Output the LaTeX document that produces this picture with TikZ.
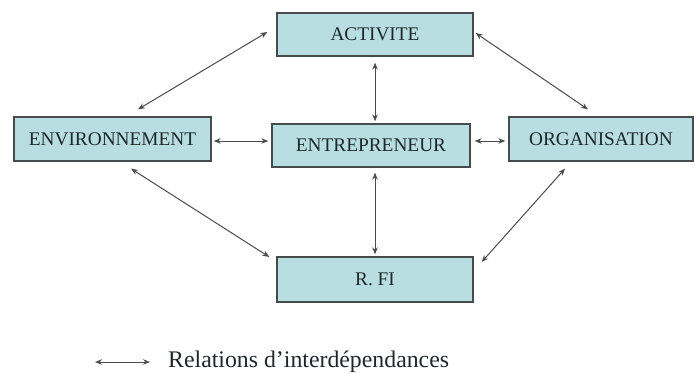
\documentclass[tikz,border=0pt]{standalone}
\usepackage{fontspec}
\setmainfont{Liberation Serif}
\usetikzlibrary{arrows.meta,calc}
\definecolor{boxfill}{RGB}{184,222,226}
\definecolor{boxline}{RGB}{70,75,75}
\definecolor{linkgray}{RGB}{75,75,75}
\definecolor{textdark}{RGB}{30,40,42}
\begin{document}
\begin{tikzpicture}[x=1pt,y=-1pt,
  entity/.style={draw=boxline,line width=1.3pt,fill=boxfill,inner sep=0pt,
    text=textdark,font=\fontsize{19.3}{19.3}\selectfont},
  link/.style={draw=linkgray,line width=1pt,
    {Stealth[length=7pt,width=5.5pt]}-{Stealth[length=7pt,width=5.5pt]}}]
\useasboundingbox (0,0) rectangle (695,372);

% the five boxes
\node[entity,minimum width=196pt,minimum height=43pt] (act) at (375,34.5) {ACTIVITE};
\node[entity,minimum width=197pt,minimum height=44pt] (env) at (112.5,139) {ENVIRONNEMENT};
\node[entity,minimum width=198pt,minimum height=43pt] (entre) at (371,145.5) {ENTREPRENEUR};
\node[entity,minimum width=184pt,minimum height=44pt] (org) at (601,139) {ORGANISATION};
\node[entity,minimum width=196pt,minimum height=45pt] (rfi) at (375,279.5) {R. FI};

% two-way links
\draw[link] ($(act.west)+(-9,-2.5)$) -- ($(env.north)+(25.5,-7)$);
\draw[link] ($(act.east)+(2,-1.5)$) -- ($(org.north)+(-13,-7)$);
\draw[link] ($(act.south)+(0,6)$) -- ($(act.south |- entre.north)+(0,-2)$);
\draw[link] ($(env.east)+(2,2)$) -- ($(entre.west |- env.east)+(-3,2)$);
\draw[link] ($(entre.east |- org.west)+(4,2)$) -- ($(org.west)+(-3,2)$);
\draw[link] ($(act.south |- entre.south)+(0,5)$) -- ($(rfi.north)+(0,-2)$);
\draw[link] ($(env.south)+(18.5,7)$) -- ($(rfi.west)+(-7,-22.5)$);
\draw[link] ($(org.south)+(-36,7)$) -- ($(rfi.east)+(8,-17.5)$);

% legend
\coordinate (lga) at (95,362);
\coordinate (lgb) at (150,362);
\draw[link] (lga) -- (lgb);
\node[anchor=base west,inner sep=0pt,text=textdark,font=\fontsize{23.8}{23.8}\selectfont]
  (lgtext) at (168,367) {Relations d’interdépendances};
\end{tikzpicture}
\end{document}
